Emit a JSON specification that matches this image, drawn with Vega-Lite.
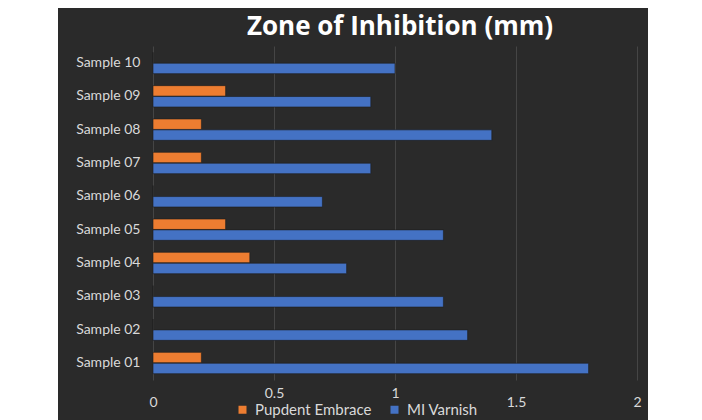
{
  "$schema": "https://vega.github.io/schema/vega-lite/v6.json",
  "width": 590,
  "height": 412,
  "autosize": {"type": "none"},
  "padding": {"left": 58, "top": 8, "right": 54, "bottom": 0},
  "background": "#ffffff",
  "config": {"view": {"fill": "#2a2a2a", "stroke": null}, "font": "Lato"},
  "title": {"text": "Zone of Inhibition (mm)", "color": "#ffffff", "fontSize": 26, "font": "Open Sans", "fontWeight": "bold", "anchor": "middle", "offset": -32, "dx": 47},
  "data": {"values": [
    {"sample": "Sample 10", "series": "Pupdent Embrace", "value": 0},
    {"sample": "Sample 10", "series": "MI Varnish", "value": 1.0},
    {"sample": "Sample 09", "series": "Pupdent Embrace", "value": 0.3},
    {"sample": "Sample 09", "series": "MI Varnish", "value": 0.9},
    {"sample": "Sample 08", "series": "Pupdent Embrace", "value": 0.2},
    {"sample": "Sample 08", "series": "MI Varnish", "value": 1.4},
    {"sample": "Sample 07", "series": "Pupdent Embrace", "value": 0.2},
    {"sample": "Sample 07", "series": "MI Varnish", "value": 0.9},
    {"sample": "Sample 06", "series": "Pupdent Embrace", "value": 0},
    {"sample": "Sample 06", "series": "MI Varnish", "value": 0.7},
    {"sample": "Sample 05", "series": "Pupdent Embrace", "value": 0.3},
    {"sample": "Sample 05", "series": "MI Varnish", "value": 1.2},
    {"sample": "Sample 04", "series": "Pupdent Embrace", "value": 0.4},
    {"sample": "Sample 04", "series": "MI Varnish", "value": 0.8},
    {"sample": "Sample 03", "series": "Pupdent Embrace", "value": 0},
    {"sample": "Sample 03", "series": "MI Varnish", "value": 1.2},
    {"sample": "Sample 02", "series": "Pupdent Embrace", "value": 0},
    {"sample": "Sample 02", "series": "MI Varnish", "value": 1.3},
    {"sample": "Sample 01", "series": "Pupdent Embrace", "value": 0.2},
    {"sample": "Sample 01", "series": "MI Varnish", "value": 1.8}
  ]},
  "mark": {"type": "bar", "stroke": "#1c1c1c", "strokeWidth": 0.6},
  "encoding": {
    "y": {
      "field": "sample", "type": "nominal",
      "sort": ["Sample 10", "Sample 09", "Sample 08", "Sample 07", "Sample 06", "Sample 05", "Sample 04", "Sample 03", "Sample 02", "Sample 01"],
      "scale": {"range": [38.3, 371.7], "paddingInner": 0.36, "paddingOuter": 0.18, "align": 0.5},
      "axis": {"orient": "left", "offset": -95, "domain": false, "ticks": false, "grid": false, "labelPadding": 13, "labelColor": "#d9d9d9", "labelFontSize": 14, "labelFont": "Lato", "title": null}
    },
    "yOffset": {"field": "series", "type": "nominal", "sort": ["Pupdent Embrace", "MI Varnish"], "scale": {"paddingInner": 0.04}},
    "x": {
      "field": "value", "type": "quantitative",
      "scale": {"domain": [-0.3926, 2.0455], "nice": false, "zero": false},
      "axis": {
        "orient": "bottom", "offset": -40, "values": [0, 0.5, 1, 1.5, 2], "format": "~g", "domain": false, "grid": false,
        "ticks": true, "tickSize": -334, "tickColor": "#454545", "tickWidth": 1,
        "labelPadding": {"condition": {"test": "datum.value == 0.5 || datum.value == 1", "value": 340}, "value": 349},
        "labelColor": "#d9d9d9", "labelFontSize": 14, "labelFont": "Lato",
        "labelFlush": false, "labelOverlap": false, "title": null
      }
    },
    "x2": {"datum": 0},
    "color": {
      "field": "series", "type": "nominal",
      "scale": {"domain": ["Pupdent Embrace", "MI Varnish"], "range": ["#ed7d31", "#4472c4"]},
      "legend": {"orient": "none", "legendX": 177, "legendY": 394, "direction": "horizontal", "title": null, "symbolType": "square", "symbolSize": 64, "symbolStrokeWidth": 0, "labelColor": "#d9d9d9", "labelFontSize": 15, "labelFont": "Lato", "labelOffset": 5, "columnPadding": 15}
    }
  }
}
